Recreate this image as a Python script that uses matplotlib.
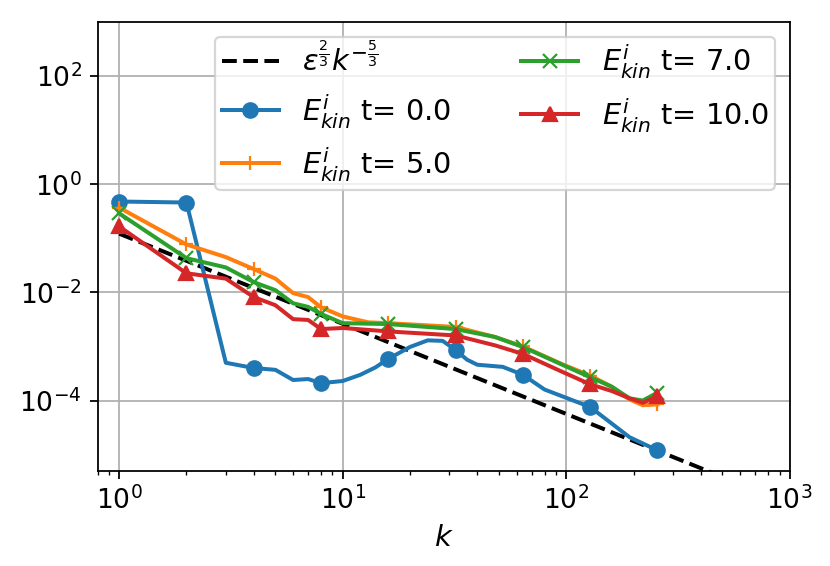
import numpy as np
import matplotlib
matplotlib.use("Agg")
import matplotlib.pyplot as plt
from matplotlib.ticker import NullLocator

# --- data ----------------------------------------------------------------

K_MARKS = [1, 2, 4, 8, 16, 32, 64, 128, 256]

eps23 = 0.122            # amplitude of the reference slope line
k_ref = [1.0, 1000.0]

k_t0 = [1, 2, 3, 4, 5, 6, 7, 8, 10, 12, 14, 16, 20, 24, 28, 32, 36, 40, 52, 64, 80, 128, 192, 256]
e_t0 = [0.48, 0.46, 5.0e-4, 4.0e-4, 3.7e-4, 2.4e-4, 2.5e-4, 2.1e-4, 2.3e-4, 3.0e-4, 4.1e-4,
        5.9e-4, 9.8e-4, 1.3e-3, 1.27e-3, 8.6e-4, 5.7e-4, 4.6e-4, 4.2e-4, 3.0e-4, 1.6e-4,
        7.6e-5, 2.1e-5, 1.2e-5]

k_t5 = [1, 2, 3, 4, 5, 6, 7, 8, 10, 13, 16, 32, 48, 64, 96, 128, 160, 192, 220, 256]
e_t5 = [0.37, 0.077, 0.045, 0.027, 0.018, 0.0097, 0.0082, 0.0053, 0.0036, 0.0028, 0.0027,
        0.0023, 1.5e-3, 1.0e-3, 4.7e-4, 2.9e-4, 1.8e-4, 1.05e-4, 8.2e-5, 8.5e-5]

k_t7 = [1, 2, 3, 4, 5, 6, 7, 8, 10, 16, 32, 48, 64, 96, 128, 160, 192, 220, 256]
e_t7 = [0.29, 0.043, 0.029, 0.0155, 0.011, 0.0063, 0.0054, 0.0040, 0.0027, 0.0026, 0.0021,
        1.5e-3, 9.8e-4, 4.6e-4, 2.7e-4, 1.8e-4, 1.1e-4, 1.0e-4, 1.4e-4]

k_t10 = [1, 2, 3, 4, 5, 6, 7, 8, 10, 16, 32, 48, 64, 96, 128, 160, 192, 220, 256]
e_t10 = [0.166, 0.0226, 0.018, 0.0082, 0.0058, 0.0032, 0.0031, 0.0021, 0.0022, 0.0019, 0.0016,
         1.05e-3, 7.3e-4, 3.4e-4, 2.0e-4, 1.5e-4, 1.1e-4, 9.1e-5, 1.2e-4]

y_ticks = [1e-4, 1e-2, 1e0, 1e2]

series = [
    (k_t0, e_t0, "0.0", "C0", "o"),
    (k_t5, e_t5, "5.0", "C1", "+"),
    (k_t7, e_t7, "7.0", "C2", "x"),
    (k_t10, e_t10, "10.0", "C3", "^"),
]


def mark_idx(ks):
    return [i for i, kk in enumerate(ks) if kk in K_MARKS]


# --- plot ----------------------------------------------------------------

DPI = 160
plt.rcParams["font.size"] = 12
plt.rcParams["lines.linewidth"] = 1.8
plt.rcParams["lines.markersize"] = 6.5

fig = plt.figure(figsize=(830 / DPI, 566 / DPI), dpi=DPI)
ax = fig.add_axes([0.1175, 0.168, 0.834, 0.793])

ax.loglog(k_ref, eps23 * np.asarray(k_ref) ** (-5.0 / 3.0), "k--",
          label=r"$\varepsilon^{\frac{2}{3}}k^{-\frac{5}{3}}$")
for ks, es, t, c, m in series:
    ax.loglog(ks, es, color=c, marker=m, markevery=mark_idx(ks),
              label=r"$E^i_{kin}$ t= " + t)

ax.set_xlim(0.8, 1000)
ax.set_ylim(5e-6, 1e3)
ax.set_yticks(y_ticks)
ax.yaxis.set_minor_locator(NullLocator())
ax.set_xlabel(r"$k$", fontsize=13)
ax.grid(True)
ax.legend(ncol=2, loc="upper right", fontsize=13, labelspacing=0.5,
          borderpad=0.22, columnspacing=2.4)

fig.savefig("out.png", dpi=DPI)
